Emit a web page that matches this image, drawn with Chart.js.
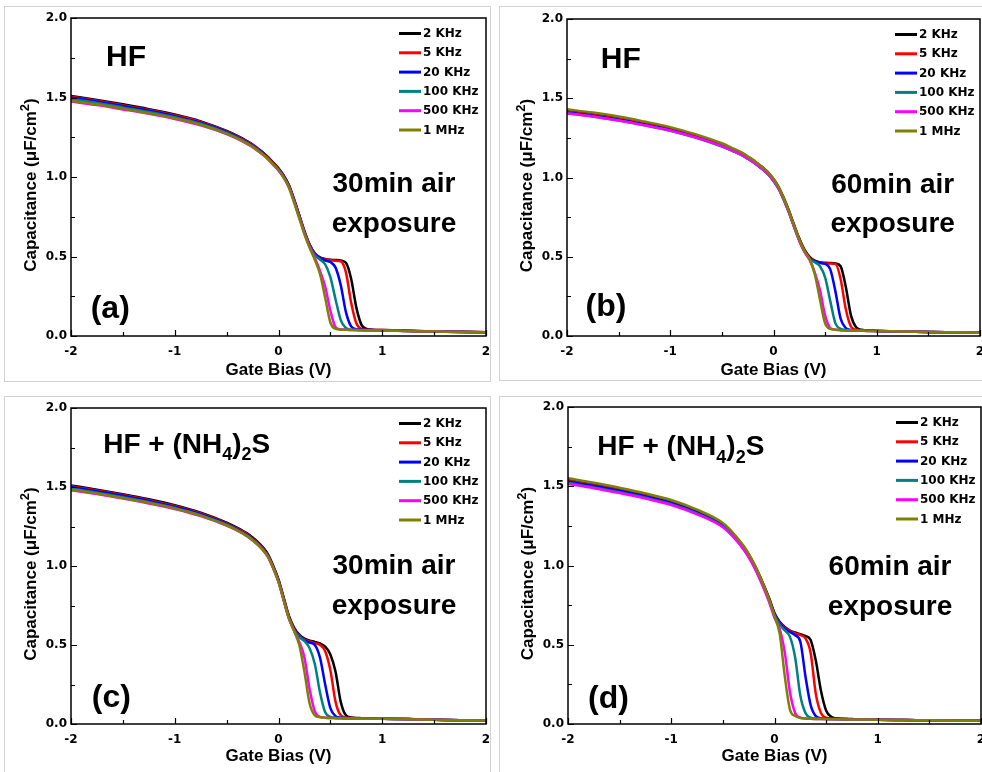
<!DOCTYPE html>
<html>
<head>
<meta charset="utf-8">
<script src="https://cdn.jsdelivr.net/npm/chart.js@4.4.0/dist/chart.umd.min.js"></script>
<style>
  html, body { margin: 0; padding: 0; background: #fff; }
  body { position: relative; width: 982px; height: 772px; overflow: hidden; }
  .frame { position: absolute; border: 1px solid #d2d2d2; box-sizing: border-box; }
  canvas { position: absolute; }
</style>
</head>
<body>
<div class="frame" style="left:4px;top:6px;width:487px;height:376px"></div>
<div class="frame" style="left:499px;top:6px;width:500px;height:375px"></div>
<div class="frame" style="left:4px;top:396px;width:487px;height:400px"></div>
<div class="frame" style="left:499px;top:396px;width:500px;height:400px"></div>
<canvas id="pa" width="491" height="386" style="left:0;top:0"></canvas>
<canvas id="pb" width="500" height="386" style="left:491px;top:0"></canvas>
<canvas id="pc" width="491" height="386" style="left:0;top:386px"></canvas>
<canvas id="pd" width="500" height="386" style="left:491px;top:386px"></canvas>
<script>
// gate bias (V) sample points shared by all curves
const xs = [-2, -1.75, -1.5, -1.25, -1, -0.75, -0.5, -0.4, -0.3, -0.25, -0.2, -0.15, -0.1, -0.05,
  0, 0.05, 0.1, 0.15, 0.2, 0.25, 0.3, 0.35, 0.4, 0.45, 0.5, 0.55, 0.6, 0.65, 0.7, 0.75, 0.8, 0.85, 0.9,
  1, 1.25, 1.5, 1.75, 2];

const xTickLabels = ['-2', '-1', '0', '1', '2'];
const yTickLabels = ['0.0', '0.5', '1.0', '1.5', '2.0'];
const xMinor = [-2, -1.5, -1, -0.5, 0, 0.5, 1, 1.5, 2];
const yMinor = [0, 0.25, 0.5, 0.75, 1, 1.25, 1.5, 1.75, 2];
const seriesNames = ['2 KHz', '5 KHz', '20 KHz', '100 KHz', '500 KHz', '1 MHz'];
const seriesColors = ['#000000', '#ff0000', '#0000ff', '#008080', '#ff00ff', '#808000'];

// (a) HF, 30 min air exposure
const aK2   = [1.51,1.485,1.457,1.427,1.393,1.35,1.29,1.26,1.225,1.205,1.18,1.155,1.125,1.09,1.055,1.01,0.95,0.86,0.76,0.66,0.575,0.52,0.495,0.485,0.48,0.478,0.475,0.46,0.36,0.18,0.07,0.045,0.04,0.038,0.033,0.029,0.026,0.024];
const aK5   = [1.505,1.48,1.452,1.422,1.388,1.346,1.287,1.257,1.222,1.202,1.177,1.152,1.122,1.088,1.053,1.008,0.948,0.858,0.758,0.658,0.573,0.518,0.492,0.482,0.477,0.474,0.47,0.40,0.21,0.08,0.045,0.04,0.038,0.037,0.033,0.029,0.026,0.024];
const aK20  = [1.50,1.475,1.447,1.417,1.383,1.341,1.283,1.253,1.218,1.198,1.174,1.149,1.119,1.085,1.05,1.005,0.945,0.855,0.755,0.655,0.57,0.515,0.49,0.475,0.465,0.43,0.32,0.15,0.06,0.042,0.039,0.038,0.037,0.036,0.032,0.028,0.025,0.023];
const aK100 = [1.49,1.466,1.438,1.409,1.376,1.335,1.278,1.248,1.214,1.194,1.17,1.145,1.115,1.081,1.046,1.0,0.94,0.85,0.75,0.65,0.565,0.51,0.48,0.45,0.37,0.23,0.10,0.05,0.04,0.038,0.037,0.036,0.036,0.035,0.032,0.028,0.025,0.023];
const aK500 = [1.475,1.452,1.425,1.397,1.365,1.325,1.27,1.241,1.207,1.188,1.164,1.139,1.11,1.076,1.041,0.995,0.935,0.845,0.745,0.645,0.56,0.49,0.41,0.31,0.16,0.055,0.042,0.04,0.038,0.037,0.036,0.036,0.035,0.035,0.031,0.028,0.025,0.023];
const aM1   = [1.48,1.457,1.43,1.401,1.369,1.329,1.273,1.244,1.21,1.19,1.166,1.141,1.112,1.078,1.043,0.997,0.935,0.84,0.74,0.64,0.555,0.48,0.39,0.24,0.085,0.045,0.04,0.039,0.038,0.037,0.036,0.036,0.035,0.035,0.031,0.028,0.025,0.023];

// (b) HF, 60 min air exposure
const bK2   = [1.42,1.40,1.375,1.345,1.31,1.265,1.21,1.18,1.15,1.13,1.11,1.085,1.06,1.03,0.99,0.94,0.87,0.79,0.70,0.615,0.545,0.50,0.475,0.465,0.462,0.46,0.458,0.44,0.31,0.13,0.055,0.04,0.035,0.032,0.028,0.025,0.023,0.021];
const bK5   = [1.415,1.395,1.37,1.34,1.305,1.26,1.205,1.175,1.145,1.125,1.105,1.08,1.055,1.025,0.985,0.935,0.865,0.785,0.695,0.61,0.54,0.495,0.472,0.462,0.458,0.457,0.455,0.36,0.17,0.06,0.04,0.036,0.034,0.032,0.028,0.025,0.023,0.021];
const bK20  = [1.41,1.39,1.365,1.335,1.30,1.255,1.20,1.17,1.14,1.12,1.10,1.075,1.05,1.02,0.98,0.93,0.86,0.78,0.69,0.605,0.535,0.49,0.47,0.46,0.455,0.42,0.28,0.11,0.05,0.038,0.035,0.034,0.033,0.032,0.028,0.025,0.023,0.021];
const bK100 = [1.405,1.385,1.36,1.33,1.295,1.25,1.195,1.168,1.138,1.118,1.098,1.073,1.048,1.018,0.978,0.928,0.858,0.778,0.688,0.603,0.532,0.485,0.465,0.44,0.37,0.22,0.08,0.045,0.038,0.035,0.034,0.033,0.033,0.032,0.028,0.025,0.023,0.021];
const bK500 = [1.405,1.385,1.36,1.33,1.296,1.252,1.198,1.17,1.14,1.12,1.10,1.075,1.05,1.02,0.98,0.93,0.86,0.78,0.688,0.60,0.53,0.48,0.40,0.29,0.13,0.05,0.04,0.037,0.035,0.034,0.033,0.033,0.032,0.032,0.028,0.025,0.023,0.021];
const bM1   = [1.43,1.41,1.385,1.353,1.318,1.272,1.216,1.186,1.155,1.134,1.113,1.088,1.062,1.032,0.992,0.94,0.868,0.786,0.695,0.607,0.535,0.485,0.39,0.23,0.08,0.045,0.04,0.037,0.035,0.034,0.033,0.033,0.032,0.032,0.028,0.025,0.023,0.021];

// (c) HF + (NH4)2S, 30 min air exposure
const cK2   = [1.51,1.483,1.454,1.422,1.385,1.338,1.275,1.243,1.205,1.18,1.152,1.118,1.072,1.0,0.915,0.80,0.685,0.61,0.565,0.54,0.528,0.52,0.51,0.49,0.44,0.33,0.14,0.055,0.042,0.038,0.037,0.036,0.035,0.034,0.031,0.027,0.024,0.022];
const cK5   = [1.505,1.478,1.449,1.417,1.38,1.333,1.27,1.238,1.2,1.175,1.147,1.113,1.067,0.995,0.91,0.795,0.68,0.605,0.56,0.535,0.522,0.512,0.50,0.46,0.34,0.14,0.055,0.042,0.038,0.037,0.036,0.035,0.035,0.034,0.031,0.027,0.024,0.022];
const cK20  = [1.50,1.473,1.444,1.412,1.375,1.328,1.266,1.234,1.196,1.171,1.143,1.109,1.063,0.991,0.906,0.79,0.675,0.60,0.555,0.53,0.515,0.50,0.42,0.25,0.10,0.05,0.04,0.038,0.037,0.036,0.035,0.035,0.034,0.034,0.031,0.027,0.024,0.022];
const cK100 = [1.49,1.464,1.435,1.404,1.368,1.322,1.261,1.229,1.191,1.166,1.138,1.104,1.059,0.987,0.902,0.786,0.672,0.595,0.55,0.525,0.48,0.38,0.20,0.075,0.045,0.04,0.038,0.037,0.036,0.035,0.035,0.034,0.034,0.033,0.03,0.027,0.024,0.022];
const cK500 = [1.48,1.455,1.427,1.396,1.361,1.316,1.256,1.225,1.187,1.162,1.134,1.1,1.055,0.983,0.898,0.782,0.668,0.59,0.52,0.42,0.22,0.08,0.045,0.04,0.038,0.037,0.036,0.035,0.035,0.034,0.034,0.033,0.033,0.033,0.03,0.027,0.024,0.022];
const cM1   = [1.485,1.459,1.431,1.4,1.364,1.319,1.258,1.227,1.189,1.164,1.136,1.102,1.057,0.985,0.9,0.784,0.668,0.588,0.50,0.33,0.13,0.055,0.043,0.04,0.038,0.037,0.036,0.035,0.035,0.034,0.034,0.033,0.033,0.033,0.03,0.027,0.024,0.022];

// (d) HF + (NH4)2S, 60 min air exposure
const dK2   = [1.54,1.512,1.481,1.446,1.405,1.345,1.262,1.20,1.12,1.07,1.012,0.945,0.87,0.79,0.70,0.645,0.612,0.59,0.577,0.566,0.555,0.53,0.40,0.21,0.085,0.045,0.036,0.033,0.032,0.031,0.03,0.029,0.028,0.027,0.025,0.023,0.021,0.02];
const dK5   = [1.535,1.507,1.476,1.441,1.4,1.34,1.257,1.195,1.115,1.065,1.007,0.94,0.865,0.785,0.695,0.64,0.607,0.586,0.572,0.561,0.54,0.45,0.19,0.07,0.04,0.035,0.033,0.032,0.031,0.03,0.03,0.029,0.028,0.027,0.025,0.023,0.021,0.02];
const dK20  = [1.53,1.502,1.471,1.436,1.395,1.335,1.252,1.19,1.11,1.06,1.002,0.935,0.86,0.78,0.69,0.635,0.602,0.58,0.56,0.52,0.30,0.12,0.05,0.037,0.034,0.033,0.032,0.031,0.031,0.03,0.03,0.029,0.028,0.027,0.025,0.023,0.021,0.02];
const dK100 = [1.52,1.493,1.462,1.428,1.387,1.328,1.246,1.185,1.106,1.056,0.998,0.931,0.856,0.775,0.684,0.627,0.59,0.55,0.42,0.18,0.07,0.04,0.035,0.033,0.032,0.031,0.031,0.03,0.03,0.03,0.029,0.029,0.028,0.027,0.025,0.023,0.021,0.02];
const dK500 = [1.515,1.488,1.457,1.423,1.382,1.323,1.241,1.18,1.101,1.051,0.993,0.925,0.848,0.765,0.67,0.60,0.45,0.20,0.07,0.04,0.035,0.033,0.032,0.031,0.031,0.03,0.03,0.03,0.029,0.029,0.029,0.028,0.028,0.027,0.025,0.023,0.021,0.02];
const dM1   = [1.55,1.522,1.49,1.455,1.413,1.352,1.268,1.205,1.124,1.073,1.014,0.945,0.866,0.78,0.68,0.57,0.30,0.09,0.05,0.038,0.034,0.033,0.032,0.031,0.031,0.03,0.03,0.03,0.029,0.029,0.029,0.028,0.028,0.027,0.025,0.023,0.021,0.02];

const SANS = '"Liberation Sans", Arial, sans-serif';
const WIDE = '"DejaVu Sans", Verdana, sans-serif';

const treat = [{ t: 'HF + (NH' }, { t: '4', sub: true }, { t: ')' }, { t: '2', sub: true }, { t: 'S' }];

const panels = [
  { id: 'pa', series: [aK2, aK5, aK20, aK100, aK500, aM1],
    box: { left: 71, top: 18, right: 5, xh: 50 },
    notes: [
      { parts: [{ t: 'HF' }], x: -1.663, y: 1.70, size: 30 },
      { parts: [{ t: '30min air' }], x: 1.113, y: 0.908, size: 28, center: true },
      { parts: [{ t: 'exposure' }], x: 1.113, y: 0.656, size: 28, center: true },
      { parts: [{ t: '(a)' }], x: -1.81, y: 0.113, size: 32 }
    ] },
  { id: 'pb', series: [bK2, bK5, bK20, bK100, bK500, bM1],
    box: { left: 76, top: 19, right: 11, xh: 50 },
    notes: [
      { parts: [{ t: 'HF' }], x: -1.673, y: 1.69, size: 30 },
      { parts: [{ t: '60min air' }], x: 1.154, y: 0.90, size: 28, center: true },
      { parts: [{ t: 'exposure' }], x: 1.154, y: 0.654, size: 28, center: true },
      { parts: [{ t: '(b)' }], x: -1.82, y: 0.126, size: 32 }
    ] },
  { id: 'pc', series: [cK2, cK5, cK20, cK100, cK500, cM1],
    box: { left: 71, top: 22, right: 5, xh: 48 },
    notes: [
      { parts: treat, x: -1.69, y: 1.716, size: 28 },
      { parts: [{ t: '30min air' }], x: 1.113, y: 0.947, size: 28, center: true },
      { parts: [{ t: 'exposure' }], x: 1.113, y: 0.697, size: 28, center: true },
      { parts: [{ t: '(c)' }], x: -1.80, y: 0.11, size: 32 }
    ] },
  { id: 'pd', series: [dK2, dK5, dK20, dK100, dK500, dM1],
    box: { left: 77, top: 21, right: 10, xh: 48 },
    notes: [
      { parts: treat, x: -1.716, y: 1.696, size: 28 },
      { parts: [{ t: '60min air' }], x: 1.119, y: 0.94, size: 28, center: true },
      { parts: [{ t: 'exposure' }], x: 1.119, y: 0.688, size: 28, center: true },
      { parts: [{ t: '(d)' }], x: -1.806, y: 0.103, size: 32 }
    ] }
];

function drawParts(ctx, parts, x, y, size, center) {
  const big = 'bold ' + size + 'px ' + SANS;
  const small = 'bold ' + Math.round(size * 0.64) + 'px ' + SANS;
  let w = 0;
  parts.forEach(p => { ctx.font = p.sub ? small : big; w += ctx.measureText(p.t).width; });
  let cx = center ? x - w / 2 : x;
  parts.forEach(p => {
    ctx.font = p.sub ? small : big;
    ctx.fillText(p.t, cx, p.sub ? y + size * 0.27 : y);
    cx += ctx.measureText(p.t).width;
  });
}

const decor = {
  id: 'decor',
  afterDatasetsDraw(chart, args, opts) {
    const { ctx, chartArea: a, scales: { x, y } } = chart;
    ctx.save();
    ctx.strokeStyle = '#000';
    ctx.lineWidth = 1.5;
    ctx.strokeRect(a.left, a.top, a.right - a.left, a.bottom - a.top);

    // inward ticks on bottom and left axes
    ctx.lineWidth = 1.2;
    ctx.beginPath();
    xMinor.forEach(v => {
      const px = Math.round(x.getPixelForValue(v)) + 0.5;
      const len = Number.isInteger(v) ? 6 : 4;
      ctx.moveTo(px, a.bottom); ctx.lineTo(px, a.bottom - len);
    });
    yMinor.forEach(v => {
      const py = Math.round(y.getPixelForValue(v)) + 0.5;
      const len = (v * 2) % 1 === 0 ? 6 : 4;
      ctx.moveTo(a.left, py); ctx.lineTo(a.left + len, py);
    });
    ctx.stroke();

    // legend in the upper right corner
    ctx.textBaseline = 'middle';
    ctx.textAlign = 'left';
    ctx.font = 'bold 12px ' + WIDE;
    chart.data.datasets.forEach((ds, i) => {
      const ly = a.top + 15.5 + i * 19.3;
      ctx.strokeStyle = ds.borderColor;
      ctx.lineWidth = 3;
      ctx.beginPath();
      ctx.moveTo(a.left + 328, ly); ctx.lineTo(a.left + 350, ly);
      ctx.stroke();
      ctx.fillStyle = '#000';
      ctx.fillText(ds.label, a.left + 352, ly + 0.5);
    });

    // annotations
    ctx.textBaseline = 'alphabetic';
    ctx.fillStyle = '#000';
    opts.notes.forEach(n => {
      drawParts(ctx, n.parts, x.getPixelForValue(n.x), y.getPixelForValue(n.y), n.size, n.center);
    });

    // y axis title with superscript
    ctx.translate(a.left - 40, (a.top + a.bottom) / 2 + 8);
    ctx.rotate(-Math.PI / 2);
    const yParts = [{ t: 'Capacitance (\u03bcF/cm' }, { t: '2', sup: true }, { t: ')' }];
    const big = 'bold 17px ' + SANS, small = 'bold 13px ' + SANS;
    let w = 0;
    yParts.forEach(p => { ctx.font = p.sup ? small : big; w += ctx.measureText(p.t).width; });
    let cx = -w / 2;
    ctx.textBaseline = 'middle';
    yParts.forEach(p => {
      ctx.font = p.sup ? small : big;
      ctx.fillText(p.t, cx, p.sup ? -6 : 0);
      cx += ctx.measureText(p.t).width;
    });
    ctx.restore();
  }
};

panels.forEach(panel => {
  new Chart(document.getElementById(panel.id), {
    type: 'line',
    data: {
      datasets: panel.series.map((vals, i) => ({
        label: seriesNames[i],
        data: xs.map((v, j) => ({ x: v, y: vals[j] })),
        borderColor: seriesColors[i],
        borderWidth: 2.5,
        pointRadius: 0,
        fill: false,
        cubicInterpolationMode: 'monotone',
        order: 5 - i
      }))
    },
    options: {
      responsive: false,
      animation: false,
      events: [],
      layout: { padding: { left: 0, top: panel.box.top, right: panel.box.right, bottom: 0 } },
      plugins: {
        legend: { display: false },
        tooltip: { enabled: false },
        decor: { notes: panel.notes }
      },
      scales: {
        x: {
          type: 'linear',
          min: -2, max: 2,
          grid: { display: false, drawTicks: false },
          border: { display: false },
          ticks: {
            stepSize: 1, padding: 9, color: '#000', maxRotation: 0, autoSkip: false,
            font: { family: WIDE, weight: 'bold', size: 12 },
            callback: v => xTickLabels[Math.round(v + 2)]
          },
          title: {
            display: true, text: 'Gate Bias (V)', color: '#000',
            font: { family: SANS, weight: 'bold', size: 17 },
            padding: { top: 0, bottom: 5 }
          },
          afterFit(s) { s.height = panel.box.xh; s.paddingLeft = 0; s.paddingRight = 0; }
        },
        y: {
          min: 0, max: 2,
          grid: { display: false, drawTicks: false },
          border: { display: false },
          ticks: {
            stepSize: 0.5, padding: 4, color: '#000',
            font: { family: WIDE, weight: 'bold', size: 12 },
            callback: v => yTickLabels[Math.round(v * 2)]
          },
          afterFit(s) { s.width = panel.box.left; s.paddingTop = 0; s.paddingBottom = 0; }
        }
      }
    },
    plugins: [decor]
  });
});
</script>
</body>
</html>
